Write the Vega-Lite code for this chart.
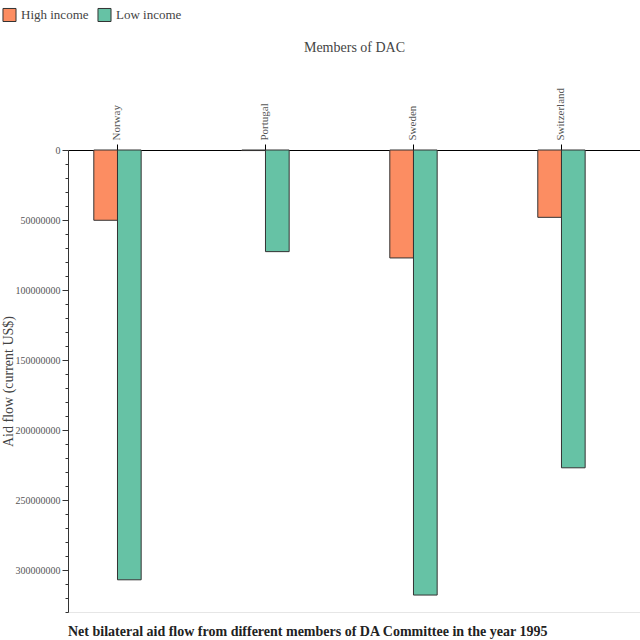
{
  "$schema": "https://vega.github.io/schema/vega-lite/v6.json",
  "width": 572,
  "height": 462,
  "autosize": {"type": "none"},
  "padding": {"left": 68, "top": 150, "right": 0, "bottom": 28},
  "background": "white",
  "config": {
    "font": "Liberation Serif",
    "view": {"stroke": "#e6e6e6"}
  },
  "title": {
    "text": "Net bilateral aid flow from different members of DA Committee in the year 1995",
    "orient": "bottom",
    "anchor": "start",
    "frame": "group",
    "offset": 8,
    "fontSize": 14,
    "fontWeight": "bold",
    "color": "#222",
    "font": "Liberation Serif"
  },
  "data": {
    "values": [
      {"country": "Norway", "income": "High income", "value": 50200000},
      {"country": "Norway", "income": "Low income", "value": 307000000},
      {"country": "Portugal", "income": "High income", "value": 400000},
      {"country": "Portugal", "income": "Low income", "value": 72600000},
      {"country": "Sweden", "income": "High income", "value": 77100000},
      {"country": "Sweden", "income": "Low income", "value": 317900000},
      {"country": "Switzerland", "income": "High income", "value": 48100000},
      {"country": "Switzerland", "income": "Low income", "value": 227000000}
    ]
  },
  "mark": {"type": "bar", "stroke": "#333", "strokeWidth": 1},
  "encoding": {
    "x": {
      "field": "country",
      "type": "nominal",
      "scale": {"paddingInner": 0.68, "paddingOuter": 0.2725, "align": 0.32},
      "axis": {
        "orient": "top",
        "title": "Members of DAC",
        "titleFontSize": 14,
        "titleFontWeight": "normal",
        "titleColor": "#444",
        "titleY": -96,
        "labelAngle": -90,
        "labelAlign": "left",
        "labelBaseline": "middle",
        "labelFontSize": 11,
        "labelColor": "#555",
        "domainColor": "#000",
        "tickColor": "#000",
        "tickSize": 6,
        "labelPadding": 4
      }
    },
    "xOffset": {"field": "income", "type": "nominal"},
    "y": {
      "field": "value",
      "type": "quantitative",
      "scale": {"domain": [0, 330000000], "reverse": true, "nice": false},
      "axis": {
        "title": "Aid flow (current US$)",
        "titleFontSize": 14,
        "titleFontWeight": "normal",
        "titleColor": "#444",
        "titleX": -60,
        "titleBaseline": "middle",
        "values": [0, 10000000, 20000000, 30000000, 40000000, 50000000, 60000000, 70000000, 80000000, 90000000, 100000000, 110000000, 120000000, 130000000, 140000000, 150000000, 160000000, 170000000, 180000000, 190000000, 200000000, 210000000, 220000000, 230000000, 240000000, 250000000, 260000000, 270000000, 280000000, 290000000, 300000000, 310000000, 320000000, 330000000],
        "labelExpr": "datum.value % 50000000 === 0 ? format(datum.value, 'd') : ''",
        "labelFontSize": 10,
        "labelColor": "#555",
        "grid": false,
        "domainColor": "#333",
        "tickColor": "#333",
        "tickSize": {"condition": {"test": "datum.value % 50000000 === 0", "value": 6}, "value": 3},
        "labelOverlap": false
      }
    },
    "color": {
      "field": "income",
      "type": "nominal",
      "scale": {"domain": ["High income", "Low income"], "range": ["#fc8d62", "#66c2a5"]},
      "legend": {
        "title": null,
        "orient": "none",
        "legendX": -66,
        "legendY": -143,
        "direction": "horizontal",
        "symbolType": "square",
        "symbolSize": 170,
        "symbolStrokeColor": "#333",
        "symbolStrokeWidth": 1,
        "labelFontSize": 13,
        "labelColor": "#444",
        "columnPadding": 6
      }
    }
  }
}
